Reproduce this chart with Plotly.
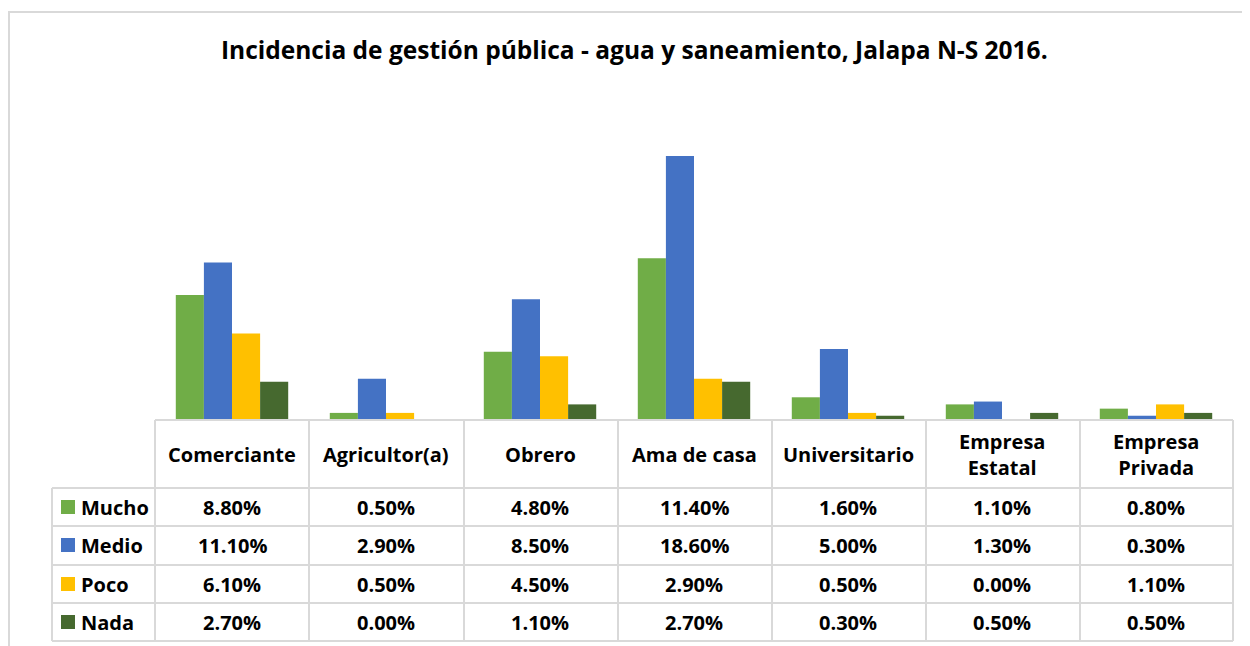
import plotly.graph_objects as go

categories = ["Comerciante", "Agricultor(a)", "Obrero", "Ama de casa",
              "Universitario", "Empresa Estatal", "Empresa Privada"]
series_names = ["Mucho", "Medio", "Poco", "Nada"]
mucho = [8.8, 0.5, 4.8, 11.4, 1.6, 1.1, 0.8]
medio = [11.1, 2.9, 8.5, 18.6, 5.0, 1.3, 0.3]
poco = [6.1, 0.5, 4.5, 2.9, 0.5, 0.0, 1.1]
nada = [2.7, 0.0, 1.1, 2.7, 0.3, 0.5, 0.5]
series_values = [mucho, medio, poco, nada]
colors = ["#70ad47", "#4472c4", "#ffc000", "#46692f"]
title = "Incidencia de gestión pública - agua y saneamiento, Jalapa N-S 2016."

W, H = 1250, 646
OFF = 8  # page body margin
FONT = "Open Sans"
GRID = "#d9d9d9"


def px(x):
    return (x - OFF) / W


def py(y):
    return 1 - (y - OFF) / H


fig = go.Figure()
for name, vals, col in zip(series_names, series_values, colors):
    fig.add_trace(go.Bar(name=name, x=categories, y=vals,
                         marker=dict(color=col, line=dict(width=0)),
                         showlegend=False))

base_y = 420
top_y = 100
scale = 264 / 18.6  # px per percent
yrange_max = (base_y - top_y) / scale

shapes = []
shapes.append(dict(type="rect", xref="paper", yref="paper",
                   x0=px(9), x1=px(1270), y0=py(12), y1=py(700),
                   line=dict(color=GRID, width=2), fillcolor="rgba(0,0,0,0)"))
col_edges = [155, 309, 464, 618, 772, 926, 1080, 1233]
row_edges = [488, 526, 565, 603, 641]
for x in col_edges:
    shapes.append(dict(type="line", xref="paper", yref="paper",
                       x0=px(x), x1=px(x), y0=py(420), y1=py(641),
                       line=dict(color=GRID, width=2)))
shapes.append(dict(type="line", xref="paper", yref="paper",
                   x0=px(52), x1=px(52), y0=py(488), y1=py(641),
                   line=dict(color=GRID, width=2)))
shapes.append(dict(type="line", xref="paper", yref="paper",
                   x0=px(155), x1=px(1233), y0=py(420), y1=py(420),
                   line=dict(color=GRID, width=2)))
for y in row_edges:
    shapes.append(dict(type="line", xref="paper", yref="paper",
                       x0=px(52), x1=px(1233), y0=py(y), y1=py(y),
                       line=dict(color=GRID, width=2)))

annotations = []
annotations.append(dict(text="<b>" + title + "</b>", xref="paper", yref="paper",
                        x=px(634), y=py(50), showarrow=False,
                        font=dict(family=FONT, size=24.5, color="#000000"),
                        xanchor="center", yanchor="middle"))
for c in categories:
    label = c.replace("Empresa ", "Empresa<br>")
    annotations.append(dict(text="<b>" + label + "</b>", xref="x", yref="paper",
                            x=c, y=py(454), showarrow=False,
                            font=dict(family=FONT, size=20, color="#000000"),
                            xanchor="center", yanchor="middle"))
row_centers = [507, 545, 584, 622]
for i, (name, vals, col) in enumerate(zip(series_names, series_values, colors)):
    yc = row_centers[i]
    shapes.append(dict(type="rect", xref="paper", yref="paper",
                       x0=px(61), x1=px(75), y0=py(yc - 7), y1=py(yc + 7),
                       fillcolor=col, line=dict(width=0)))
    annotations.append(dict(text="<b>" + name + "</b>", xref="paper", yref="paper",
                            x=px(79), y=py(yc), showarrow=False,
                            font=dict(family=FONT, size=20, color="#000000"),
                            xanchor="left", yanchor="middle"))
    for c, v in zip(categories, vals):
        annotations.append(dict(text="<b>%.2f%%</b>" % v, xref="x", yref="paper",
                                x=c, y=py(yc), showarrow=False,
                                font=dict(family=FONT, size=20, color="#000000"),
                                xanchor="center", yanchor="middle"))

fig.update_layout(
    width=W, height=H,
    margin=dict(l=0, r=0, t=0, b=0),
    paper_bgcolor="white", plot_bgcolor="white",
    barmode="group", bargap=0.27, bargroupgap=0,
    xaxis=dict(domain=[px(155), px(1233)], showticklabels=False,
               showgrid=False, zeroline=False, showline=False, ticks=""),
    yaxis=dict(domain=[py(base_y), py(top_y)], range=[0, yrange_max],
               visible=False),
    shapes=shapes, annotations=annotations,
    font=dict(family=FONT),
)

fig.write_html("out.html")
